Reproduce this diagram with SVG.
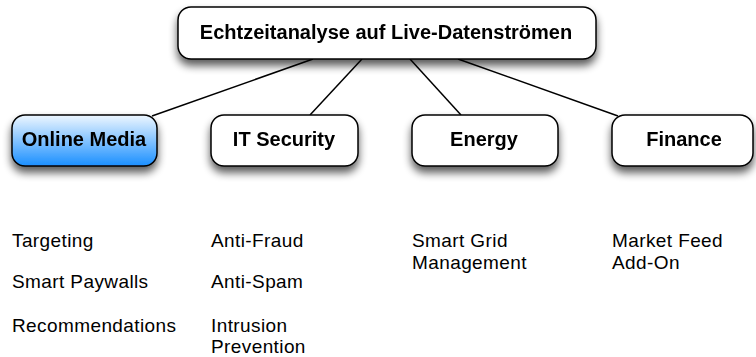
<svg xmlns="http://www.w3.org/2000/svg" width="756" height="357" viewBox="0 0 756 357">
<style>
.box{fill:#fff;stroke:#000;stroke-width:1.5}
.blue{fill:url(#bg);stroke:#000;stroke-width:1.5}
.t{font-family:"Liberation Sans",Arial,sans-serif;font-weight:bold;font-size:20px;fill:#000;text-anchor:middle}
.l{font-family:"Liberation Sans",Arial,sans-serif;font-size:19px;letter-spacing:0.4px;fill:#000}
.c{stroke:#000;stroke-width:1.5;fill:none}
</style>
<defs>
<linearGradient id="bg" x1="0" y1="0" x2="0" y2="1">
<stop offset="0" stop-color="#eef7ff"/>
<stop offset="1" stop-color="#1a8fff"/>
</linearGradient>
<filter id="sh" x="-20%" y="-20%" width="140%" height="170%">
<feGaussianBlur in="SourceAlpha" stdDeviation="4"/>
<feOffset dx="0" dy="6" result="b"/>
<feComponentTransfer><feFuncA type="linear" slope="0.65"/></feComponentTransfer>
<feMerge><feMergeNode/><feMergeNode in="SourceGraphic"/></feMerge>
</filter>
</defs>
<g id="connectors">
<line class="c" x1="313" y1="59" x2="152" y2="116"/>
<line class="c" x1="362" y1="59" x2="310" y2="115"/>
<line class="c" x1="410" y1="59" x2="461" y2="115"/>
<line class="c" x1="458" y1="59" x2="618" y2="116"/>
</g>
<g id="root" filter="url(#sh)">
<rect class="box" x="178" y="7" width="418" height="52" rx="13"/>
<text class="t" x="386" y="39">Echtzeitanalyse auf Live-Datenströmen</text>
</g>
<g id="online-media" filter="url(#sh)">
<rect class="blue" x="12" y="115" width="145" height="51" rx="13"/>
<text class="t" x="84" y="146">Online Media</text>
</g>
<g id="it-security" filter="url(#sh)">
<rect class="box" x="211" y="115" width="147" height="51" rx="13"/>
<text class="t" x="284" y="146">IT Security</text>
</g>
<g id="energy" filter="url(#sh)">
<rect class="box" x="412" y="115" width="146" height="51" rx="13"/>
<text class="t" x="484" y="146">Energy</text>
</g>
<g id="finance" filter="url(#sh)">
<rect class="box" x="612" y="115" width="141" height="51" rx="13"/>
<text class="t" x="684" y="146">Finance</text>
</g>
<g id="labels">
<text class="l" x="12" y="247">Targeting</text>
<text class="l" x="12" y="288">Smart Paywalls</text>
<text class="l" x="12" y="332">Recommendations</text>
<text class="l" x="211" y="247">Anti-Fraud</text>
<text class="l" x="211" y="288">Anti-Spam</text>
<text class="l" x="211" y="332">Intrusion</text>
<text class="l" x="211" y="353">Prevention</text>
<text class="l" x="412" y="247">Smart Grid</text>
<text class="l" x="412" y="269">Management</text>
<text class="l" x="612" y="247">Market Feed</text>
<text class="l" x="612" y="269">Add-On</text>
</g>
</svg>
